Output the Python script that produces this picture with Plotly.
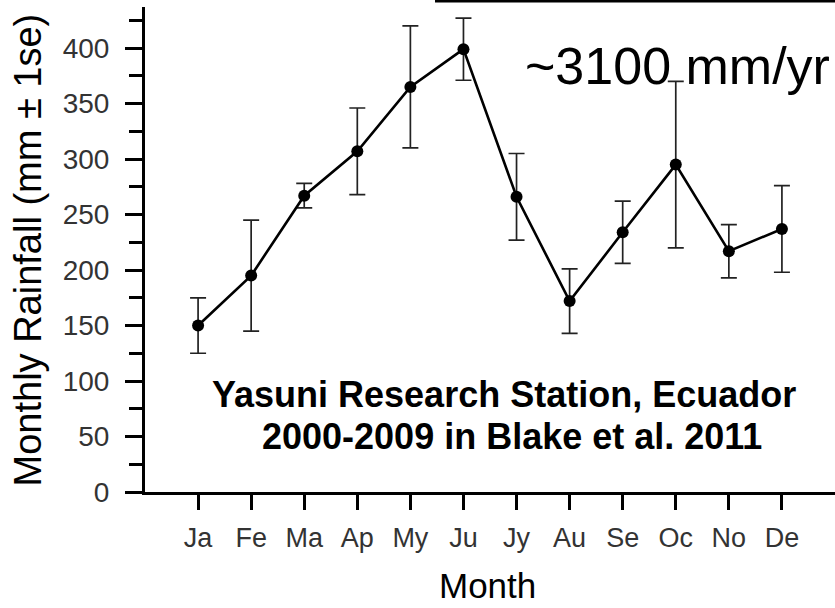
import plotly.graph_objects as go

months = ["Ja", "Fe", "Ma", "Ap", "My", "Ju", "Jy", "Au", "Se", "Oc", "No", "De"]
month_pos = list(range(1, 13))
rainfall = [150, 195, 267, 307, 365, 399, 266, 172, 234, 295, 217, 237]
se = [25, 50, 11, 39, 55, 28, 39, 29, 28, 75, 24, 39]
y_ticks = [0, 50, 100, 150, 200, 250, 300, 350, 400]

FONT = "Liberation Sans, Arial, sans-serif"

fig = go.Figure()
fig.add_trace(go.Scatter(
    x=month_pos, y=rainfall,
    mode="lines+markers",
    line=dict(color="black", width=2.6),
    marker=dict(color="black", size=12, symbol="circle"),
    error_y=dict(type="data", array=se, visible=True,
                 color="#222222", thickness=1.7, width=8),
    showlegend=False,
))

fig.update_layout(
    width=835, height=608,
    margin=dict(l=145, r=0, t=7, b=116),
    paper_bgcolor="white", plot_bgcolor="white",
    font=dict(family=FONT, color="black"),
    xaxis=dict(
        range=[0, 13], tickvals=month_pos, ticktext=months,
        showgrid=False, zeroline=False,
        showline=True, linecolor="black", linewidth=3,
        ticks="outside", ticklen=15, tickwidth=3, tickcolor="black",
        tickfont=dict(family=FONT, size=27, color="#333333"),
        ticklabelstandoff=5,
    ),
    yaxis=dict(
        range=[0, 437], tickvals=y_ticks,
        showgrid=False, zeroline=False,
        showline=True, linecolor="black", linewidth=3,
        ticks="outside", ticklen=17, tickwidth=3, tickcolor="black",
        tickfont=dict(family=FONT, size=28, color="#333333"),
        ticklabelstandoff=10,
        minor=dict(dtick=25, tick0=0, ticks="outside", ticklen=13,
                   tickwidth=3, tickcolor="black", showgrid=False),
    ),
)

# Top border fragment of a text box (cropped in the original)
fig.add_shape(type="line", xref="paper", yref="paper",
              x0=0.4203, x1=1.0, y0=1.0124, y1=1.0124,
              line=dict(color="black", width=3))

annots = [
    dict(text="~3100 mm/yr", x=0.5478, y=0.878, xanchor="left", yanchor="middle",
         font=dict(size=52, family=FONT, color="black")),
    dict(text="<b>Yasuni Research Station, Ecuador</b>", x=0.5196, y=0.2010,
         xanchor="center", yanchor="middle",
         font=dict(size=36, family=FONT, color="black")),
    dict(text="<b>2000-2009 in Blake et al. 2011</b>", x=0.5312, y=0.1144,
         xanchor="center", yanchor="middle",
         font=dict(size=36, family=FONT, color="black")),
    dict(text="Month", x=0.4957, y=-0.237, xanchor="center", yanchor="bottom",
         font=dict(size=35, family=FONT, color="black")),
    dict(text="Monthly Rainfall (mm ± 1se)", x=-0.1703, y=0.499, textangle=-90,
         xanchor="center", yanchor="middle",
         font=dict(size=38, family=FONT, color="black")),
]
for a in annots:
    fig.add_annotation(xref="paper", yref="paper", showarrow=False, **a)

fig.write_html("out.html")
